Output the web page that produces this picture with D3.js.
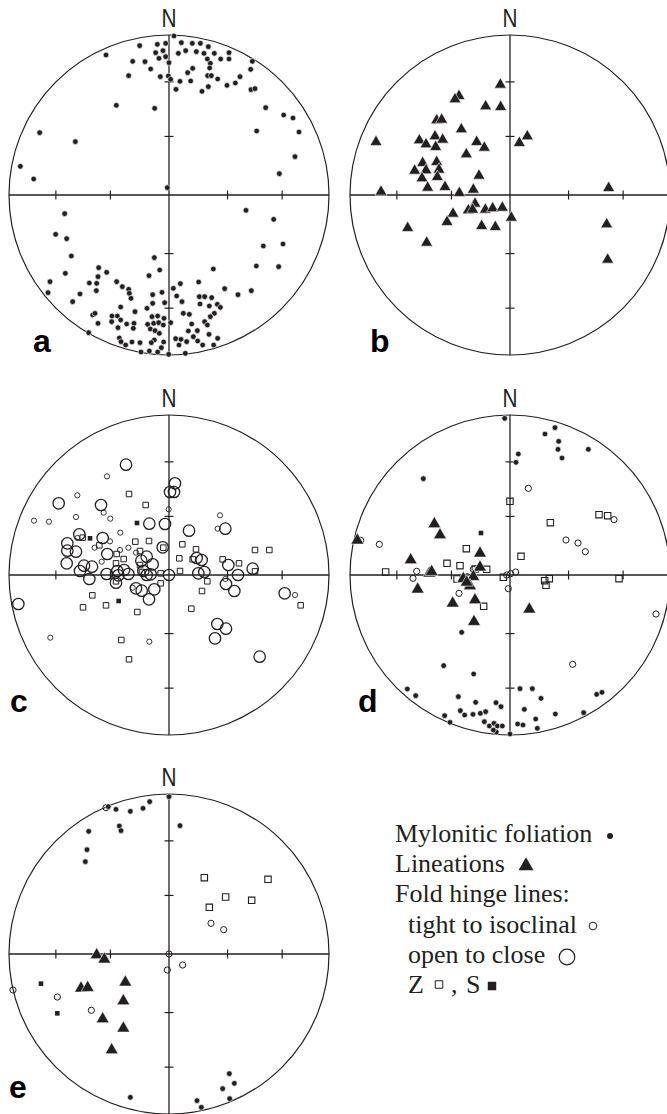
<!DOCTYPE html>
<html>
<head>
<meta charset="utf-8">
<script src="https://cdn.jsdelivr.net/npm/d3@7"></script>
<style>
  html, body { margin: 0; padding: 0; background: #fff; }
  svg { display: block; }
</style>
</head>
<body>
<div id="chart"></div>
<script>
// plot units: points are [east, north] with the primitive circle at radius 48
const netRadius = 48;
const tickPlunges = [60, 30];

// panel a - mylonitic foliation
const aFoliation = [
  [1.5,47.7],[-1.0,45.5],[-3.5,45.2],[3.7,45.7],[7.0,45.5],[9.4,45.5],[11.8,44.5],[-8.8,44.8],[-18.9,42.0],
  [-4.0,42.7],[-1.8,43.3],[2.8,42.5],[5.0,43.3],[8.2,43.0],[10.5,42.5],[13.6,42.5],[15.5,40.8],[18.0,42.7],
  [18.0,40.8],[11.5,40.8],[12.4,39.5],[-3.0,41.0],[-1.0,41.5],[0.0,39.7],[-10.9,40.1],[-7.2,40.0],[-5.5,37.8],
  [25.0,40.1],[24.5,37.7],[7.1,38.0],[5.6,36.7],[12.2,38.1],[11.6,35.8],[12.7,35.8],[14.6,34.8],[-12.1,35.8],
  [-2.6,35.5],[-0.2,35.7],[0.5,34.7],[3.3,34.1],[6.5,34.2],[21.3,35.5],[19.9,33.6],[17.4,32.9],[11.8,32.5],
  [9.9,31.1],[2.1,31.7],[24.6,31.6],[25.8,31.9],[-15.8,26.9],[-4.3,26.0],[29.0,26.2],[34.4,24.0],[37.2,23.1],
  [26.3,19.2],[39.0,18.9],[-38.8,18.7],[-28.1,16.0],[37.8,11.5],[33.1,6.4],[-44.6,8.6],[-40.6,4.8],[-0.5,2.2],
  [-31.3,-5.6],[23.1,-4.6],[31.4,-7.3],[-34.0,-11.8],[-30.7,-13.1],[28.3,-15.3],[34.2,-14.7],[-29.3,-18.3],
  [-4.4,-18.8],[26.2,-21.3],[32.9,-21.5],[-21.1,-21.8],[-2.8,-22.5],[13.3,-22.2],[-31.1,-23.5],[-18.7,-23.2],
  [-21.3,-24.5],[-6.0,-24.2],[-35.7,-26.0],[-23.9,-26.4],[-21.7,-26.5],[-15.7,-26.0],[-14.0,-27.5],[-12.1,-28.3],
  [-11.9,-29.5],[-11.4,-31.0],[-21.8,-28.7],[-36.3,-29.3],[-26.7,-29.7],[-2.1,-29.2],[-4.9,-29.9],[1.3,-28.0],
  [3.4,-26.6],[2.3,-30.3],[3.9,-32.0],[8.9,-26.1],[16.7,-28.1],[20.7,-29.9],[24.7,-28.7],[9.1,-30.5],[10.7,-30.5],
  [12.8,-30.8],[9.3,-32.7],[12.1,-33.3],[14.5,-32.8],[15.4,-33.7],[13.6,-35.5],[12.4,-36.5],[-28.9,-32.0],
  [-4.9,-32.5],[-1.3,-32.3],[-6.6,-34.0],[-14.5,-33.6],[-10.2,-35.0],[-5.1,-36.5],[-3.4,-36.3],[-1.5,-37.0],
  [4.3,-35.5],[6.1,-35.8],[-22.9,-36.0],[-22.2,-35.5],[-17.1,-36.3],[-15.5,-36.3],[-14.5,-37.5],[-12.7,-38.7],
  [-10.5,-38.5],[-21.3,-38.5],[-17.2,-38.0],[-15.3,-39.8],[-10.7,-40.0],[-6.4,-38.8],[-4.6,-38.5],[-3.1,-38.3],
  [-1.7,-39.0],[0.5,-38.3],[6.8,-38.7],[10.7,-38.0],[11.5,-39.0],[-5.6,-40.2],[-4.2,-40.7],[-2.9,-41.5],
  [5.8,-40.8],[8.5,-40.7],[7.3,-42.5],[12.0,-41.8],[-24.1,-41.3],[-14.9,-42.9],[-11.1,-44.1],[-8.7,-44.3],
  [-4.4,-43.5],[-5.3,-44.3],[-1.6,-44.1],[2.0,-43.1],[3.6,-43.3],[5.3,-44.0],[3.0,-45.0],[8.6,-43.8],
  [10.1,-45.0],[13.4,-45.0],[14.6,-43.0],[-2.3,-45.8],[-8.4,-47.1],[-5.9,-46.8],[-3.4,-47.1],[-0.1,-47.8],
  [4.9,-47.5],[-13.0,-45.0],[-14.4,-44.0]
];

// panel b - lineations
const bLineation = [
  [-2.9,33.1],[-15.3,29.7],[-16.5,28.7],[-7.3,26.6],[-2.8,26.4],[-22.0,22.4],[-20.5,22.6],[-14.6,19.7],
  [-40.2,15.9],[-27.2,16.4],[-25.2,15.2],[-22.5,17.6],[-20.2,16.6],[-22.3,14.4],[-10.0,15.9],[-7.7,14.2],
  [2.8,15.6],[5.2,17.6],[-13.1,12.2],[-26.2,9.6],[-22.0,9.9],[-28.6,7.3],[-25.2,7.4],[-21.3,7.6],[-26.4,5.0],
  [-21.8,5.4],[-9.3,5.8],[-24.7,2.2],[-19.5,2.4],[-38.7,1.0],[-15.2,0.6],[-11.0,1.6],[29.6,2.1],[-10.5,-2.6],
  [-12.5,-4.6],[-11.2,-4.4],[-7.4,-4.4],[-5.2,-4.0],[-2.3,-3.8],[-17.1,-5.6],[0.4,-6.8],[-18.9,-8.1],
  [-30.7,-9.9],[-8.5,-9.3],[-4.4,-9.6],[29.0,-8.8],[-25.0,-14.3],[29.3,-19.4]
];

// panel c - fold hinge lines
const cOpen = [
  [-12.9,33.1],[1.8,27.5],[0.3,24.9],[1.5,24.9],[-33.1,21.5],[-20.4,21.0],[-5.9,15.4],[-1.2,15.3],[6.0,13.3],
  [16.9,13.9],[-26.9,12.2],[-19.9,11.1],[-30.5,9.5],[-30.5,7.3],[-27.9,7.0],[-1.9,8.3],[-18.5,6.3],[-6.7,5.5],
  [-8.3,4.3],[-30.7,3.5],[-25.5,2.8],[-23.1,2.5],[-4.9,3.2],[8.3,5.1],[9.8,4.5],[17.8,3.0],[25.1,1.9],
  [-26.7,1.2],[-23.9,-1.2],[-18.7,0.3],[-15.5,1.2],[-13.5,1.5],[-12.2,0.3],[-15.2,-0.1],[-7.7,1.2],[-6.7,0.0],
  [-5.5,0.2],[0.0,0.0],[8.8,0.5],[10.6,0.9],[20.7,0.0],[-15.9,-2.3],[17.1,-2.7],[19.6,-4.8],[-9.9,-4.0],
  [-8.2,-4.7],[-4.4,-4.3],[-6.0,-7.3],[34.7,-5.5],[-45.2,-8.7],[14.5,-14.7],[17.1,-16.1],[13.8,-19.0],[27.2,-24.5]
];
const cTight = [
  [-18.6,29.6],[-27.5,23.9],[-19.6,18.7],[-17.6,16.9],[-27.9,17.4],[-40.5,16.3],[-36.0,16.0],[-0.1,19.7],
  [15.3,17.9],[14.6,13.9],[-14.6,12.7],[-27.5,11.1],[-17.7,10.1],[-22.3,8.2],[-14.7,7.5],[-12.2,8.2],
  [-9.9,6.7],[-20.2,4.0],[-10.9,-3.8],[37.8,-6.0],[-35.6,-18.8],[-5.9,-20.0],[16.9,-1.2]
];
const cZ = [
  [-12.0,24.3],[-7.0,21.0],[-10.1,10.0],[-6.0,10.2],[4.0,9.2],[-20.9,8.9],[-25.9,11.2],[8.1,7.7],[25.8,7.5],
  [30.1,7.5],[-15.7,6.3],[-8.7,7.2],[-13.6,4.8],[3.1,5.0],[7.1,4.7],[16.1,4.7],[21.0,3.5],[-15.9,3.5],
  [-8.7,3.0],[3.3,1.2],[-2.5,0.5],[25.8,1.1],[-8.1,0.9],[-15.9,-1.9],[11.5,-1.9],[-2.5,-2.5],[9.9,-4.8],
  [-23.0,-6.1],[-18.9,-9.1],[-25.8,-9.7],[-9.5,-11.1],[6.7,-10.1],[39.5,-9.1],[-14.3,-19.5],[-12.0,-25.3],[-1.7,8.2]
];
const cS = [[-9.6,15.6],[-23.7,11.0],[-15.1,-7.8]];

// panel d
const dFoliation = [
  [-1.6,47.0],[10.5,42.3],[13.5,44.2],[14.6,40.1],[14.4,37.7],[15.6,35.1],[23.5,37.7],[2.5,36.3],[1.8,33.8],
  [-26.0,28.9],[-14.5,-17.2],[-19.9,-27.2],[-10.9,-29.7],[-30.8,-34.2],[-28.3,-36.2],[3.0,-34.1],[6.7,-34.1],
  [9.3,-37.0],[26.0,-35.8],[27.6,-35.2],[-15.5,-36.5],[-10.3,-38.2],[-4.2,-38.3],[-2.7,-39.5],[4.3,-40.3],
  [13.6,-41.7],[22.1,-41.3],[-14.9,-40.7],[-13.6,-42.0],[-11.1,-41.8],[-8.9,-41.5],[-7.3,-41.0],[-19.6,-42.2],
  [-18.0,-44.2],[-7.7,-44.0],[-6.2,-45.3],[-4.8,-44.5],[-3.8,-45.3],[-2.3,-45.3],[2.3,-44.7],[3.9,-45.0],
  [7.7,-43.2],[8.2,-46.0],[-4.1,-47.1],[0.0,-47.7],[-5.0,-46.5]
];
const dLineation = [
  [-45.8,10.4],[-22.7,15.3],[-21.0,12.0],[-9.0,6.5],[-29.8,4.5],[-9.0,2.3],[-24.2,0.5],[-23.5,1.0],
  [-14.0,-1.1],[-11.0,-0.5],[-12.0,-3.3],[-27.7,-4.3],[-17.2,-8.5],[-10.5,-7.5],[-10.8,-14.0],[5.8,-10.3],[-13.0,-2.2]
];
const dTight = [
  [-44.8,10.4],[-39.2,9.2],[5.5,26.0],[31.2,16.6],[16.8,10.5],[20.4,9.6],[22.6,7.0],[-28.0,1.1],[-29.1,-1.0],
  [1.7,0.9],[-1.0,0.0],[0.2,0.4],[-0.5,-4.1],[-15.3,-5.5],[-12.8,-0.5],[43.8,-11.7],[18.8,-26.8],[-11.0,1.7]
];
const dZ = [
  [0.0,22.1],[12.1,15.7],[26.7,18.1],[29.3,17.8],[-13.1,7.9],[3.3,5.6],[-18.9,3.5],[-15.0,2.8],[-7.0,1.7],
  [-10.4,1.8],[-37.3,0.9],[-15.9,-1.2],[-2.0,-0.7],[10.4,-1.7],[11.8,-1.1],[10.8,-3.1],[32.7,-1.1],[-7.9,-9.4],[-12.5,-3.1]
];
const dS = [[-8.7,12.6]];

// panel e
const eFoliation = [
  [0.0,47.2],[-5.8,45.7],[-7.8,43.7],[-11.6,42.8],[-15.9,43.4],[-18.2,44.2],[3.3,38.5],[-24.1,36.8],
  [-14.9,38.4],[-14.4,37.0],[-24.6,31.3],[-25.1,27.7],[-11.6,-43.0],[18.1,-35.9],[19.6,-38.8],[16.1,-40.4],
  [18.2,-43.4],[8.4,-44.0],[9.7,-46.0]
];
const eLineation = [
  [-21.7,-0.3],[-19.4,-1.6],[-26.4,-10.3],[-24.4,-10.1],[-13.1,-8.5],[-13.7,-14.1],[-19.9,-19.5],[-13.7,-22.3],[-17.2,-28.8]
];
const eTight = [[-18.9,43.9],[12.6,9.2],[16.4,7.3],[0.0,0.0],[4.1,-3.3],[-0.5,-4.8],[-46.8,-10.8],[-33.5,-12.9],[-23.3,-16.9]];
const eZ = [[10.6,22.9],[29.7,22.4],[17.0,17.1],[24.8,16.1],[12.1,14.0]];
const eS = [[-38.4,-8.9],[-33.5,-17.8]];

const legendLines = ["Mylonitic foliation", "Lineations", "Fold hinge lines:", "tight to isoclinal", "open to close"];

var width = 667, height = 1114, R = 160;
var ink = "#231f20";

var panels = [
  {letter: "a", cx: 169, cy: 195, lx: 33, ly: 352,
   sets: [{data: aFoliation, kind: "dot"}]},
  {letter: "b", cx: 510, cy: 195, lx: 370, ly: 352,
   sets: [{data: bLineation, kind: "tri"}]},
  {letter: "c", cx: 169, cy: 575, lx: 10, ly: 712,
   sets: [{data: cZ, kind: "sq"}, {data: cS, kind: "fsq"}, {data: cTight, kind: "small"}, {data: cOpen, kind: "big"}]},
  {letter: "d", cx: 510, cy: 575, lx: 358, ly: 712,
   sets: [{data: dZ, kind: "sq2"}, {data: dS, kind: "fsq"}, {data: dTight, kind: "small2"}, {data: dFoliation, kind: "dot"}, {data: dLineation, kind: "tri2"}]},
  {letter: "e", cx: 169, cy: 954, lx: 9, ly: 1098,
   sets: [{data: eZ, kind: "sq2"}, {data: eS, kind: "fsq"}, {data: eTight, kind: "small2"}, {data: eFoliation, kind: "dot"}, {data: eLineation, kind: "tri2"}]}
];

// marker styles (symbol type, area, fill)
var markers = {
  dot:    {type: d3.symbolCircle,   size: Math.PI * 2.8 * 2.8, fill: ink, stroke: "#fff", sw: 0.6},
  tri:    {type: d3.symbolTriangle, size: 12 * 12 * 0.433, fill: ink, stroke: "#fff", sw: 0.6},
  tri2:   {type: d3.symbolTriangle, size: 13 * 13 * 0.433, fill: ink, stroke: "#fff", sw: 0.6},
  big:    {type: d3.symbolCircle,   size: Math.PI * 5.7 * 5.7, fill: "none", stroke: ink, sw: 1.3},
  small:  {type: d3.symbolCircle,   size: Math.PI * 2.6 * 2.6, fill: "none", stroke: ink, sw: 0.9},
  small2: {type: d3.symbolCircle,   size: Math.PI * 3.1 * 3.1, fill: "none", stroke: ink, sw: 1},
  sq:     {type: d3.symbolSquare,   size: 5.5 * 5.5, fill: "none", stroke: ink, sw: 1},
  sq2:    {type: d3.symbolSquare,   size: 6.4 * 6.4, fill: "none", stroke: ink, sw: 1.1},
  fsq:    {type: d3.symbolSquare,   size: 4.6 * 4.6, fill: ink, stroke: "none", sw: 0}
};

var svg = d3.select("#chart").append("svg")
  .attr("width", width)
  .attr("height", height)
  .attr("viewBox", `0 0 ${width} ${height}`);

// equal-area radius of the 30 and 60 degree plunge ticks
var tickR = tickPlunges.map(function(p) {
  return Math.SQRT2 * Math.sin((90 - p) / 2 * Math.PI / 180) * netRadius;
});

panels.forEach(function(p) {
  var x = d3.scaleLinear().domain([-netRadius, netRadius]).range([p.cx - R, p.cx + R]);
  var y = d3.scaleLinear().domain([-netRadius, netRadius]).range([p.cy + R, p.cy - R]);

  var g = svg.append("g").attr("class", "net-" + p.letter);

  //primitive circle
  g.append("circle")
    .attr("cx", x(0)).attr("cy", y(0)).attr("r", x(netRadius) - x(0))
    .attr("fill", "none").attr("stroke", ink).attr("stroke-width", 1.2);

  //cross
  g.append("line").attr("x1", x(-netRadius)).attr("x2", x(netRadius)).attr("y1", y(0)).attr("y2", y(0))
    .attr("stroke", ink).attr("stroke-width", 1.3);
  g.append("line").attr("x1", x(0)).attr("x2", x(0)).attr("y1", y(-netRadius)).attr("y2", y(netRadius))
    .attr("stroke", ink).attr("stroke-width", 1.3);

  var ticks = tickR.concat(tickR.map(function(t) { return -t; }));
  g.selectAll(".xt").data(ticks).enter().append("line")
    .attr("x1", function(d) { return x(d); }).attr("x2", function(d) { return x(d); })
    .attr("y1", y(0) - 4.5).attr("y2", y(0) + 4.5)
    .attr("stroke", ink).attr("stroke-width", 1.2);
  g.selectAll(".yt").data(ticks).enter().append("line")
    .attr("y1", function(d) { return y(d); }).attr("y2", function(d) { return y(d); })
    .attr("x1", x(0) - 4.5).attr("x2", x(0) + 4.5)
    .attr("stroke", ink).attr("stroke-width", 1.2);

  g.append("text")
    .attr("x", x(0)).attr("y", y(netRadius) - 8.5)
    .attr("text-anchor", "middle")
    .attr("font-family", "Liberation Sans, Arial, sans-serif")
    .attr("font-size", 25)
    .attr("textLength", 15).attr("lengthAdjust", "spacingAndGlyphs")
    .attr("fill", ink)
    .text("N");

  g.append("text")
    .attr("x", p.lx).attr("y", p.ly)
    .attr("font-family", "Liberation Sans, Arial, sans-serif")
    .attr("font-weight", "bold")
    .attr("font-size", 32)
    .attr("fill", "#000")
    .text(p.letter);

  p.sets.forEach(function(s) {
    var m = markers[s.kind];
    g.selectAll(null).data(s.data).enter().append("path")
      .attr("d", d3.symbol().type(m.type).size(m.size))
      .attr("transform", function(d) { return "translate(" + x(d[0]) + "," + y(d[1]) + ")"; })
      .attr("fill", m.fill)
      .attr("stroke", m.stroke)
      .attr("stroke-width", m.sw);
  });
});

// legend
var lg = svg.append("g").attr("font-family", "Liberation Serif, Times New Roman, serif")
  .attr("font-size", 26).attr("fill", ink);
var legendX = [395, 395, 395, 408, 408];
var legendY = [842, 872, 902, 933, 963];
lg.selectAll("text.item").data(legendLines).enter().append("text")
  .attr("x", function(d, i) { return legendX[i]; })
  .attr("y", function(d, i) { return legendY[i]; })
  .text(function(d) { return d; });
lg.append("text").attr("x", 408).attr("y", 993).text("Z");
lg.append("text").attr("x", 451).attr("y", 993).text(",");
lg.append("text").attr("x", 466).attr("y", 993).text("S");

function legendMark(kind, cx, cy, size, sw) {
  var m = markers[kind];
  svg.append("path")
    .attr("d", d3.symbol().type(m.type).size(size))
    .attr("transform", "translate(" + cx + "," + cy + ")")
    .attr("fill", m.fill)
    .attr("stroke", m.fill === "none" ? ink : "none")
    .attr("stroke-width", sw);
}
legendMark("dot", 610, 836, Math.PI * 3 * 3, 0);
legendMark("tri", 526, 866, 15 * 15 * 0.433, 0);
legendMark("small", 593, 926, Math.PI * 3.8 * 3.8, 1);
legendMark("big", 567, 957, Math.PI * 7.8 * 7.8, 1.2);
legendMark("sq", 439, 984.5, 7.5 * 7.5, 1);
legendMark("fsq", 492, 986, 8.5 * 8.5, 0);
</script>
</body>
</html>
